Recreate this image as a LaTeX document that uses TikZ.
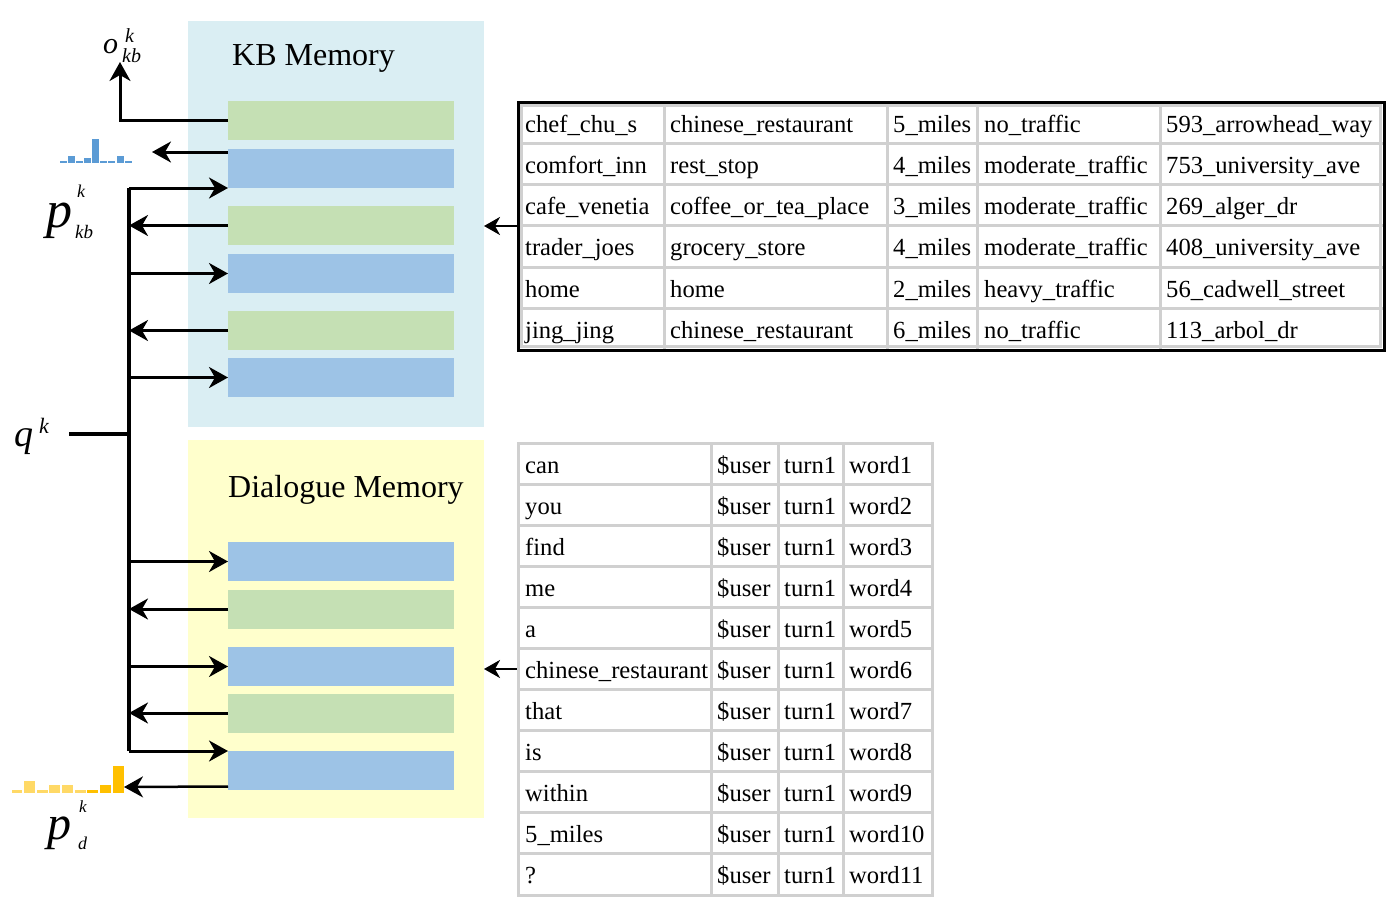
\documentclass[tikz,border=0pt]{standalone}
\usepackage{fontspec}
\setmainfont[Ligatures=NoCommon]{Liberation Serif}
\usetikzlibrary{arrows.meta,calc}
\definecolor{kbbgc}{HTML}{DAEEF3}
\definecolor{dbgc}{HTML}{FFFFCC}
\definecolor{slotgreen}{HTML}{C5E0B4}
\definecolor{slotblue}{HTML}{9DC3E6}
\definecolor{gridgrey}{HTML}{D0D0D0}
\definecolor{histblue}{HTML}{5B9BD5}
\definecolor{histlight}{HTML}{FFD966}
\definecolor{histdark}{HTML}{FFC000}
\begin{document}
\begin{tikzpicture}[x=1pt,y=-1pt,
  membg/.style={rectangle,inner sep=0,outer sep=0,draw=none},
  slot/.style={rectangle,inner sep=0,outer sep=0,minimum width=226pt,minimum height=39pt},
  gslot/.style={slot,fill=slotgreen},
  bslot/.style={slot,fill=slotblue},
  arr/.style={line width=3pt,-{Stealth[length=19pt 0,width=21pt 0,inset=6pt 0]}},
  busline/.style={line width=3.5pt},
  tarr/.style={line width=2.5pt,-{Stealth[length=16pt 0,width=18pt 0,inset=5pt 0]}},
  gridline/.style={draw=gridgrey,line width=3pt},
  cell/.style={anchor=base west,inner sep=0,font=\fontsize{24.6}{28}\selectfont},
  title/.style={anchor=base west,inner sep=0,font=\fontsize{32}{36}\selectfont},
  lbl/.style={anchor=base west,inner sep=0}
]
\useasboundingbox (0,0) rectangle (1398,910);

% memory backgrounds
\node[membg,fill=kbbgc,minimum width=296pt,minimum height=406pt] (kbbg) at (336,224) {};
\node[membg,fill=dbgc,minimum width=296pt,minimum height=378pt] (dbg) at (336,629) {};
\node[title] (kbtitle) at (232,65) {KB Memory};
\node[title] (dtitle) at (228,497) {Dialogue Memory};

% KB slots
\node[gslot] (k1) at (341,120.5) {};
\node[bslot] (k2) at (341,168.5) {};
\node[gslot] (k3) at (341,225.5) {};
\node[bslot] (k4) at (341,273.5) {};
\node[gslot] (k5) at (341,330.5) {};
\node[bslot] (k6) at (341,377.5) {};
% dialogue slots
\node[bslot] (d1) at (341,561.5) {};
\node[gslot] (d2) at (341,609) {};
\node[bslot] (d3) at (341,666.5) {};
\node[gslot] (d4) at (341,713) {};
\node[bslot] (d5) at (341,770.5) {};

% bus
\coordinate (bus) at (129,0);
\coordinate (qend) at (69,434);
\coordinate (okbtip) at (120,62);
\coordinate (hkb) at (152,152);
\coordinate (hd) at (124,787);
\draw[busline] (k2.south west -| bus) -- (d5.north west -| bus);
\draw[busline] (qend) -- (qend -| bus);

% KB arrows
\draw[arr] (k1.west) -| (okbtip);
\draw[arr] ($(k2.north west)+(0,3)$) -- (hkb);
\draw[arr] (k2.south west -| bus) -- (k2.south west);
\draw[arr] (k3.west) -- (k3.west -| bus);
\draw[arr] (k4.west -| bus) -- (k4.west);
\draw[arr] (k5.west) -- (k5.west -| bus);
\draw[arr] (k6.west -| bus) -- (k6.west);
% dialogue arrows
\draw[arr] (d1.west -| bus) -- (d1.west);
\draw[arr] (d2.west) -- (d2.west -| bus);
\draw[arr,line width=2.5pt] (d3.west -| bus) -- (d3.west);
\draw[arr] (d4.west) -- (d4.west -| bus);
\draw[arr] (d5.north west -| bus) -- (d5.north west);
\draw[arr,line width=2.5pt] ($(d5.south west)+(0,-3.5)$) -- (hd);

% histograms
\foreach \x/\h in {60/2.3,68/7,76/2.3,84/5,92/24,100/2.3,108/2.3,117/7,125/2.3}
  \fill[histblue] (\x,163) rectangle (\x+7.3,163-\h);
\foreach \x/\w/\h/\c in {12/10/3.3/histlight,24/11/12/histlight,37/11/3.3/histlight,49/11/8/histlight,62/11/8/histlight,75/11/3.3/histlight,87/11/3.3/histdark,100/11/8/histdark,113/11/27/histdark}
  \fill[\c] (\x,793) rectangle (\x+\w,793-\h);

% labels
\node[lbl,font=\fontsize{30}{32}\selectfont\itshape] (olab) at (103,53) {o};
\node[lbl,font=\fontsize{20}{22}\selectfont\itshape] (olabk) at (125,42) {k};
\node[lbl,font=\fontsize{20}{22}\selectfont\itshape] (olabkb) at (122,62) {kb};
\node[lbl,font=\fontsize{52}{54}\selectfont\itshape] (pkb) at (46,227) {p};
\node[lbl,font=\fontsize{18}{20}\selectfont\itshape] (pkbk) at (77,197) {k};
\node[lbl,font=\fontsize{19}{21}\selectfont\itshape] (pkbkb) at (75,238) {kb};
\node[lbl,font=\fontsize{38}{40}\selectfont\itshape] (ql) at (14,446) {q};
\node[lbl,font=\fontsize{22}{24}\selectfont\itshape] (qlk) at (39,433) {k};
\node[lbl,font=\fontsize{48}{50}\selectfont\itshape] (pd) at (47,839) {p};
\node[lbl,font=\fontsize{17}{19}\selectfont\itshape] (pdk) at (79,812) {k};
\node[lbl,font=\fontsize{18}{20}\selectfont\itshape] (pdd) at (78,849) {d};

% KB table
\foreach \x in {664,887,977,1160} \draw[gridline] (\x,102) -- (\x,350);
\foreach \i in {1,...,5} \draw[gridline] (518,102+41.3*\i) -- (1384,102+41.3*\i);
\draw[gridline] (521.5,105.5) rectangle (1380.5,346.5);
\node[rectangle,draw=black,line width=3pt,inner sep=0,minimum width=866pt,minimum height=248pt] (kbtab) at (951,226) {};
\foreach \r/\a/\b/\c/\d/\e in {
  1/chef\_chu\_s/chinese\_restaurant/5\_miles/no\_traffic/593\_arrowhead\_way,
  2/comfort\_inn/rest\_stop/4\_miles/moderate\_traffic/753\_university\_ave,
  3/cafe\_venetia/coffee\_or\_tea\_place/3\_miles/moderate\_traffic/269\_alger\_dr,
  4/trader\_joes/grocery\_store/4\_miles/moderate\_traffic/408\_university\_ave,
  5/home/home/2\_miles/heavy\_traffic/56\_cadwell\_street,
  6/jing\_jing/chinese\_restaurant/6\_miles/no\_traffic/113\_arbol\_dr}{
  \node[cell] (kb-\r-1) at (525,102+41.3*\r-11.3) {\a};
  \node[cell] (kb-\r-2) at (670,102+41.3*\r-11.3) {\b};
  \node[cell] (kb-\r-3) at (893,102+41.3*\r-11.3) {\c};
  \node[cell] (kb-\r-4) at (984,102+41.3*\r-11.3) {\d};
  \node[cell] (kb-\r-5) at (1166,102+41.3*\r-11.3) {\e};
}

% dialogue table
\foreach \x in {711,778,843} \draw[gridline] (\x,443) -- (\x,895);
\foreach \i in {1,...,10} \draw[gridline] (518,443+41.09*\i) -- (932,443+41.09*\i);
\node[rectangle,gridline,inner sep=0,minimum width=414pt,minimum height=452pt] (dtab) at (725,669) {};
\foreach \r/\w in {1/can,2/you,3/find,4/me,5/a,6/chinese\_restaurant,7/that,8/is,9/within,10/5\_miles,11/?}{
  \node[cell] (dt-\r-1) at (525,443+41.09*\r-11.09) {\w};
  \node[cell] (dt-\r-2) at (717,443+41.09*\r-11.09) {\$user};
  \node[cell] (dt-\r-3) at (784,443+41.09*\r-11.09) {turn1};
  \node[cell] (dt-\r-4) at (849,443+41.09*\r-11.09) {word\r};
}

% table arrows
\draw[tarr] (kbtab.west) -- (kbtab.west -| kbbg.east);
\draw[tarr] (dtab.west) -- (dtab.west -| dbg.east);
\end{tikzpicture}
\end{document}
